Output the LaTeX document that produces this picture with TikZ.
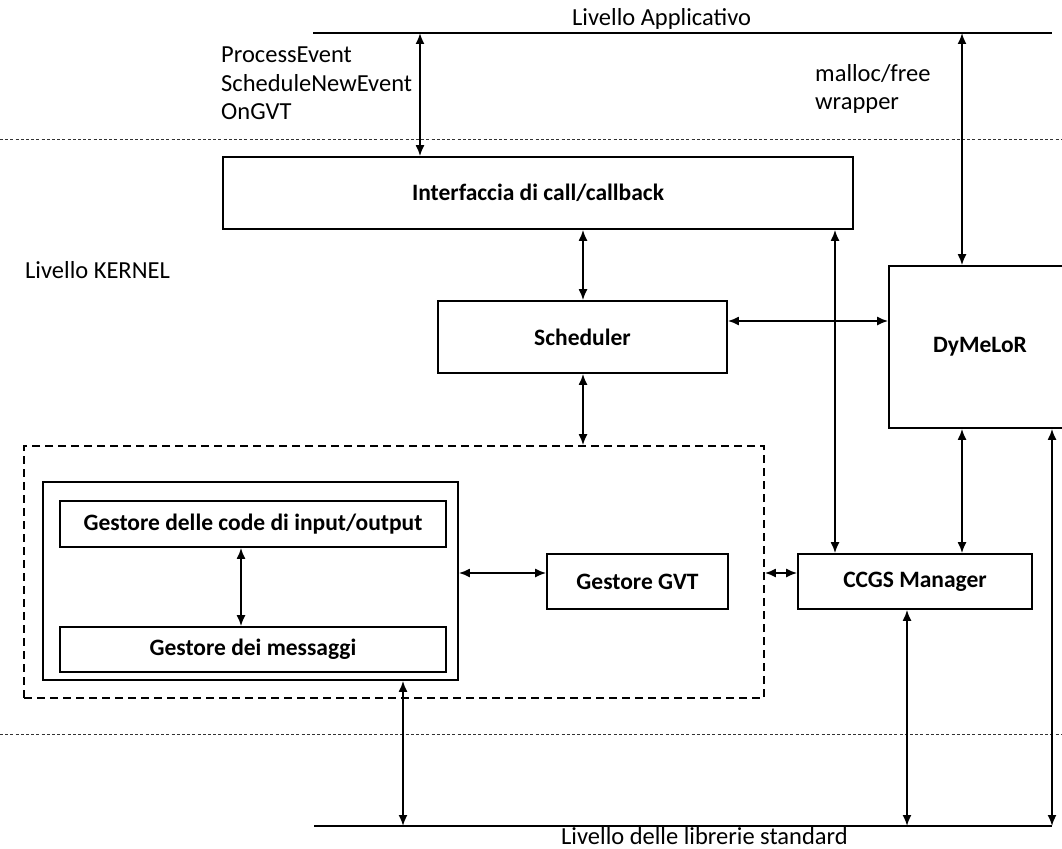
\documentclass[tikz,border=0pt]{standalone}
\usepackage{fontspec}
\setmainfont{Carlito}
\usetikzlibrary{arrows.meta}
\begin{document}
\begin{tikzpicture}[x=1pt,y=-1pt,
  box/.style={draw,line width=1.7pt,inner sep=0pt,font=\fontsize{23.5}{28}\selectfont\bfseries},
  lbl/.style={inner sep=0pt,anchor=base west,font=\fontsize{24.5}{29}\selectfont},
  dbl/.style={line width=1.8pt,{Latex[length=11pt,width=9pt]}-{Latex[length=11pt,width=9pt]}},
  layer/.style={line width=1.4pt},
  sep/.style={line width=1pt,dash pattern=on 3pt off 2.2pt,black!80},
  group/.style={draw,line width=1.7pt,dash pattern=on 8pt off 5pt,inner sep=0pt}]
\useasboundingbox (0,0) rectangle (1062,848);
\clip (0,0) rectangle (1062,848);

% layer lines
\coordinate (topL) at (313,33);
\coordinate (topR) at (1052,33);
\coordinate (botL) at (314,826);
\coordinate (botR) at (1052,826);
\draw[layer] (topL) -- (topR);
\draw[layer] (botL) -- (botR);
\coordinate (sepAL) at (0,139);
\coordinate (sepAR) at (1062,139);
\coordinate (sepBL) at (0,734);
\coordinate (sepBR) at (1062,734);
\draw[sep] (sepAL) -- (sepAR);
\draw[sep] (sepBL) -- (sepBR);

% labels
\node[lbl] (lapp) at (572,26) {Livello Applicativo};
\node[lbl] (pe) at (221,63) {ProcessEvent};
\node[lbl] (sne) at (221,91.5) {ScheduleNewEvent};
\node[lbl] (ongvt) at (221,120) {OnGVT};
\node[lbl] (mf) at (815,82) {malloc/free};
\node[lbl] (wr) at (815,110) {wrapper};
\node[lbl] (lk) at (25,278) {Livello KERNEL};
\node[lbl] (lstd) at (561,844) {Livello delle librerie standard};

% boxes
\node[box,minimum width=630pt,minimum height=72pt] (iface) at (538,193) {Interfaccia di call/callback};
\node[box,minimum width=289pt,minimum height=72pt] (sched) at (582.5,337) {Scheduler};
\node[box,minimum width=182pt,minimum height=162pt] (dyme) at (980,347) {DyMeLoR};
\node[group,minimum width=740pt,minimum height=252pt] (grp) at (394,572) {};
\node[box,minimum width=415pt,minimum height=198pt] (outer) at (250.5,581) {};
\node[box,minimum width=386pt,minimum height=46pt] (code) at (253,524) {Gestore delle code di input/output};
\node[box,minimum width=386pt,minimum height=45pt] (msg) at (253,649.5) {Gestore dei messaggi};
\node[box,minimum width=181pt,minimum height=55pt] (gvt) at (637.5,581.5) {Gestore GVT};
\node[box,minimum width=234pt,minimum height=55pt] (ccgs) at (915,581.5) {CCGS Manager};

% column / row helpers
\coordinate (x420) at (420,0);
\coordinate (x962) at (962,0);
\coordinate (x583) at (583,0);
\coordinate (x835) at (835,0);
\coordinate (x241) at (241,0);
\coordinate (x403) at (403,0);
\coordinate (x907) at (907,0);
\coordinate (x1052) at (1052,0);
\coordinate (y321) at (0,321);
\coordinate (y573) at (0,573);

% connectors
\draw[dbl] (x420 |- topL) -- (x420 |- iface.north);
\draw[dbl] (x962 |- topL) -- (x962 |- dyme.north);
\draw[dbl] (x583 |- iface.south) -- (x583 |- sched.north);
\draw[dbl] (x583 |- sched.south) -- (x583 |- grp.north);
\draw[dbl] (sched.east |- y321) -- (dyme.west |- y321);
\draw[dbl] (x835 |- iface.south) -- (x835 |- ccgs.north);
\draw[dbl] (x962 |- dyme.south) -- (x962 |- ccgs.north);
\draw[dbl] (x241 |- code.south) -- (x241 |- msg.north);
\draw[dbl] (outer.east |- y573) -- (gvt.west |- y573);
\draw[dbl] (grp.east |- y573) -- (ccgs.west |- y573);
\draw[dbl] (x403 |- outer.south) -- (x403 |- botL);
\draw[dbl] (x907 |- ccgs.south) -- (x907 |- botL);
\draw[dbl] (x1052 |- dyme.south) -- (x1052 |- botL);
\end{tikzpicture}
\end{document}
